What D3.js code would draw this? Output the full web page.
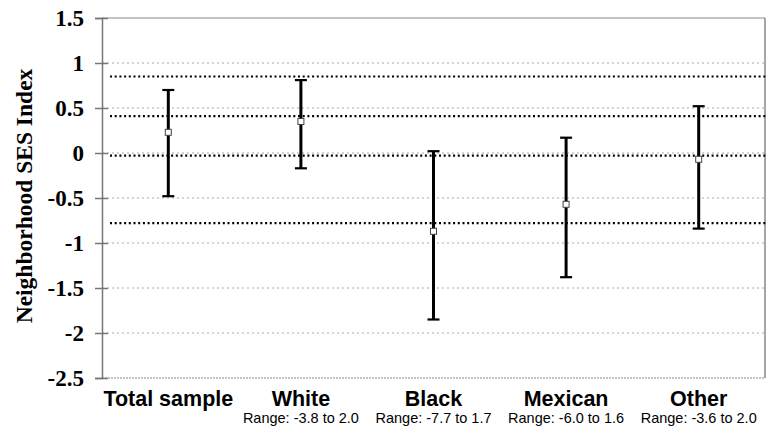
<!DOCTYPE html>
<html>
<head>
<meta charset="utf-8">
<script src="https://cdn.jsdelivr.net/npm/d3@7"></script>
<style>
  body { margin: 0; background: #fff; }
  svg { display: block; }
</style>
</head>
<body>
<div id="chart"></div>
<script>
  // data
  const categories = ["Total sample", "White", "Black", "Mexican", "Other"];
  const rangeLabels = ["", "Range: -3.8 to 2.0", "Range: -7.7 to 1.7", "Range: -6.0 to 1.6", "Range: -3.6 to 2.0"];
  const means = [0.23, 0.35, -0.87, -0.57, -0.07];
  const upper = [0.70, 0.81, 0.02, 0.17, 0.52];
  const lower = [-0.48, -0.17, -1.85, -1.38, -0.84];
  const refLines = [0.85, 0.41, -0.03, -0.78];
  const yTicks = [1.5, 1, 0.5, 0, -0.5, -1, -1.5, -2, -2.5];

  const width = 775, height = 433;
  const margin = { top: 18, right: 10, bottom: 55, left: 102 };
  const innerW = 765 - margin.left;
  const innerH = 378 - margin.top;
  const serif = "'Liberation Serif', 'Times New Roman', serif";
  const sans = "'Liberation Sans', Arial, sans-serif";

  const svg = d3.select("#chart").append("svg")
    .attr("width", width)
    .attr("height", height);

  const g = svg.append("g").attr("transform", `translate(${margin.left},${margin.top})`);

  const x = d3.scaleBand().domain(categories).range([0, innerW]);
  const y = d3.scaleLinear().domain([-2.5, 1.5]).range([innerH, 0]);

  // light dotted gridlines
  g.selectAll(".grid")
    .data(yTicks.filter(t => t !== 1.5 && t !== -2.5))
    .join("line")
    .attr("x1", 0).attr("x2", innerW)
    .attr("y1", d => y(d)).attr("y2", d => y(d))
    .attr("stroke", "#aaa")
    .attr("stroke-width", 1)
    .attr("stroke-dasharray", "2,3");

  // frame: top and right solid, bottom dashed
  g.append("line").attr("x1", 0).attr("x2", innerW).attr("y1", 0).attr("y2", 0)
    .attr("stroke", "#888").attr("stroke-width", 1);
  g.append("line").attr("x1", innerW).attr("x2", innerW).attr("y1", 0).attr("y2", innerH)
    .attr("stroke", "#888").attr("stroke-width", 1.5);
  g.append("line").attr("x1", 0).attr("x2", innerW).attr("y1", innerH).attr("y2", innerH)
    .attr("stroke", "#888").attr("stroke-width", 1).attr("stroke-dasharray", "2,1");

  // heavy dotted reference lines
  g.selectAll(".ref")
    .data(refLines)
    .join("line")
    .attr("x1", 8).attr("x2", innerW + 3)
    .attr("y1", d => y(d)).attr("y2", d => y(d))
    .attr("stroke", "#000")
    .attr("stroke-width", 2.2)
    .attr("stroke-dasharray", "2,2.7");

  // y axis
  const yAxis = g.append("g")
    .call(d3.axisLeft(y).tickValues(yTicks).tickSize(7).tickPadding(11).tickFormat(d => String(d)));
  yAxis.attr("font-family", serif).attr("font-size", 23).attr("font-weight", "bold");
  yAxis.select(".domain").attr("stroke", "#777").attr("stroke-width", 1.5);
  yAxis.selectAll(".tick line").attr("stroke", "#777").attr("stroke-width", 1.5).attr("x2", 6).attr("x1", -7);
  yAxis.selectAll(".tick text")
    .style("font-family", serif)
    .style("font-weight", "bold")
    .style("font-size", "23px")
    .attr("fill", "#000");

  // axis title
  svg.append("text")
    .attr("transform", `translate(32,${margin.top + innerH / 2 - 2}) rotate(-90)`)
    .attr("text-anchor", "middle")
    .style("font-family", serif)
    .style("font-weight", "bold")
    .style("font-size", "23.5px")
    .text("Neighborhood SES Index");

  // error bars
  const bars = g.selectAll(".bar")
    .data(categories.map((c, i) => ({ c, mean: means[i], hi: upper[i], lo: lower[i] })))
    .join("g")
    .attr("transform", d => `translate(${x(d.c) + x.bandwidth() / 2},0)`);

  bars.append("line")
    .attr("y1", d => y(d.hi)).attr("y2", d => y(d.lo))
    .attr("stroke", "#000").attr("stroke-width", 3);
  bars.append("line")
    .attr("x1", -6).attr("x2", 6)
    .attr("y1", d => y(d.hi)).attr("y2", d => y(d.hi))
    .attr("stroke", "#000").attr("stroke-width", 2.2);
  bars.append("line")
    .attr("x1", -6).attr("x2", 6)
    .attr("y1", d => y(d.lo)).attr("y2", d => y(d.lo))
    .attr("stroke", "#000").attr("stroke-width", 2.2);
  bars.append("rect")
    .attr("x", -3).attr("width", 6)
    .attr("y", d => y(d.mean) - 3).attr("height", 6)
    .attr("fill", "#fff").attr("stroke", "#444").attr("stroke-width", 1);

  // category labels
  const labels = svg.append("g");
  labels.selectAll(".cat")
    .data(categories)
    .join("text")
    .attr("x", d => margin.left + x(d) + x.bandwidth() / 2)
    .attr("y", 406)
    .attr("text-anchor", "middle")
    .style("font-family", sans)
    .style("font-weight", "bold")
    .style("font-size", "21.5px")
    .text(d => d);

  labels.selectAll(".range")
    .data(categories.map((c, i) => ({ c, t: rangeLabels[i] })))
    .join("text")
    .attr("x", d => margin.left + x(d.c) + x.bandwidth() / 2)
    .attr("y", 423)
    .attr("text-anchor", "middle")
    .style("font-family", sans)
    .style("font-size", "14.5px")
    .attr("textLength", d => d.t ? 116 : null)
    .attr("lengthAdjust", "spacingAndGlyphs")
    .text(d => d.t);
</script>
</body>
</html>
